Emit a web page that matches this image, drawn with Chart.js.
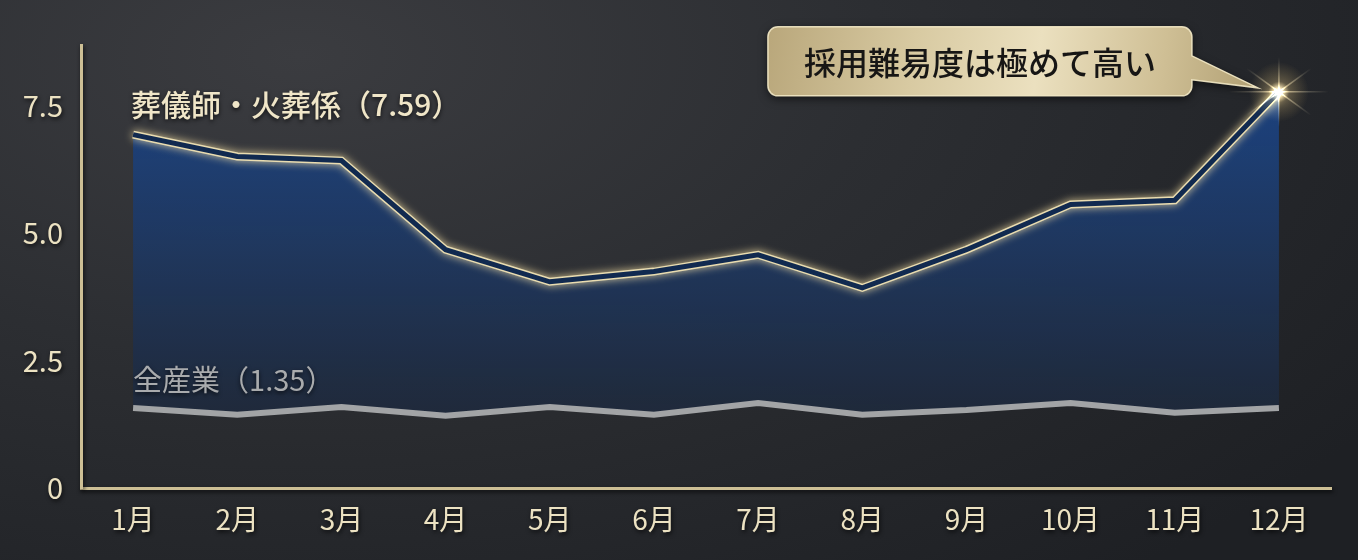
<!DOCTYPE html>
<html><head><meta charset="utf-8">
<script src="https://cdn.jsdelivr.net/npm/chart.js@4.4.1/dist/chart.umd.min.js"></script>
<style>
html,body{margin:0;padding:0;width:1358px;height:560px;overflow:hidden;}
body{background: radial-gradient(ellipse 95% 120% at 22% 10%, #3b3c40 0%, #2c2e32 45%, #1e2024 100%);}
#wrap{position:relative;width:1358px;height:560px;}
</style></head><body><div id="wrap"><canvas id="c" width="1358" height="560"></canvas></div>
<script>
const months = ['1月','2月','3月','4月','5月','6月','7月','8月','9月','10月','11月','12月'];
const funeralSeries = [6.94, 6.51, 6.43, 4.68, 4.05, 4.25, 4.58, 3.93, 4.68, 5.57, 5.65, 7.78];
const allIndustrySeries = [1.57, 1.44, 1.59, 1.42, 1.59, 1.44, 1.67, 1.44, 1.53, 1.67, 1.48, 1.57];
const yTickValues = [0, 2.5, 5, 7.5];
const funeralLabel = '葬儀師・火葬係（7.59）';
const allIndustryLabel = '全産業（1.35）';
const calloutText = '採用難易度は極めて高い';

const FONT = '"Noto Sans CJK JP", "Noto Sans", sans-serif';
const cream = '#ece2c2';

const fx = {
  id: 'fx',
  beforeDraw(chart) {
    const c = chart.ctx; c.save();
    c.shadowColor = 'rgba(0,0,0,0.75)'; c.shadowBlur = 4; c.shadowOffsetX = 1; c.shadowOffsetY = 2;
  },
  beforeDatasetsDraw(chart) { chart.ctx.restore(); },
  beforeDatasetDraw(chart, args) {
    if (args.index === 1) {
      const c = chart.ctx; c.save();
      c.shadowColor = 'rgba(255,232,170,0.8)'; c.shadowBlur = 8;
    }
  },
  afterDatasetDraw(chart, args) { if (args.index === 1) chart.ctx.restore(); },
  afterDatasetsDraw(chart) {
    const c = chart.ctx;
    const m0 = chart.getDatasetMeta(0).data;
    const m2 = chart.getDatasetMeta(2).data;
    // series labels
    c.save();
    c.shadowColor = 'rgba(0,0,0,0.7)'; c.shadowBlur = 4; c.shadowOffsetY = 2;
    c.textBaseline = 'alphabetic'; c.textAlign = 'left';
    c.font = '500 30px ' + FONT; c.fillStyle = '#f0e6c8';
    c.fillText(funeralLabel, m0[0].x - 2, m0[0].y - 19);
    c.font = '400 29px ' + FONT; c.fillStyle = '#a9abad';
    c.fillText(allIndustryLabel, m2[0].x, m2[0].y - 17);
    c.restore();

    // glowing point
    const p = m0[m0.length - 1];
    c.save();
    c.globalCompositeOperation = 'lighter';
    let g = c.createRadialGradient(p.x, p.y, 0, p.x, p.y, 30);
    g.addColorStop(0, 'rgba(255,250,230,1)');
    g.addColorStop(0.12, 'rgba(255,240,200,0.9)');
    g.addColorStop(0.35, 'rgba(230,200,130,0.3)');
    g.addColorStop(1, 'rgba(200,170,100,0)');
    c.fillStyle = g; c.beginPath(); c.arc(p.x, p.y, 30, 0, Math.PI * 2); c.fill();
    const streaks = [[0, 50], [Math.PI / 2, 35], [Math.PI * 0.2, 40], [-Math.PI * 0.2, 40]];
    for (const [a, len] of streaks) {
      for (const s of [1, -1]) {
        const ex = p.x + Math.cos(a) * len * s, ey = p.y + Math.sin(a) * len * s;
        const lg = c.createLinearGradient(p.x, p.y, ex, ey);
        lg.addColorStop(0, 'rgba(255,240,200,0.55)');
        lg.addColorStop(1, 'rgba(255,240,200,0)');
        c.strokeStyle = lg; c.lineWidth = 1.5;
        c.beginPath(); c.moveTo(p.x, p.y); c.lineTo(ex, ey); c.stroke();
      }
    }
    c.restore();

    // callout
    const right = p.x - 87, w = 424, h = 69;
    const left = right - w, top = p.y - 65, bottom = top + h, r = 10;
    const tipX = p.x - 21, tipY = p.y - 4;
    c.save();
    c.beginPath();
    c.moveTo(left + r, top);
    c.lineTo(right - r, top);
    c.arcTo(right, top, right, top + r, r);
    c.lineTo(right, top + 29);
    c.lineTo(tipX, tipY);
    c.lineTo(right, top + 53);
    c.lineTo(right, bottom - r);
    c.arcTo(right, bottom, right - r, bottom, r);
    c.lineTo(left + r, bottom);
    c.arcTo(left, bottom, left, bottom - r, r);
    c.lineTo(left, top + r);
    c.arcTo(left, top, left + r, top, r);
    c.closePath();
    const bg = c.createLinearGradient(left, top, tipX, bottom);
    bg.addColorStop(0, '#b9a77b');
    bg.addColorStop(0.3, '#d8caa2');
    bg.addColorStop(0.55, '#ebe0bf');
    bg.addColorStop(0.8, '#cfbf95');
    bg.addColorStop(1, '#b09f73');
    c.shadowColor = 'rgba(0,0,0,0.6)'; c.shadowBlur = 10; c.shadowOffsetY = 3;
    c.fillStyle = bg; c.fill();
    c.shadowColor = 'transparent';
    c.strokeStyle = 'rgba(245,235,200,0.9)'; c.lineWidth = 1.5; c.stroke();
    c.fillStyle = '#171615';
    c.font = '500 32px ' + FONT;
    c.textAlign = 'center'; c.textBaseline = 'middle';
    c.fillText(calloutText, (left + right) / 2, (top + bottom) / 2 + 1);
    c.restore();
  }
};

new Chart(document.getElementById('c'), {
  type: 'line',
  data: {
    labels: months,
    datasets: [
      { label: '葬儀師・火葬係', data: funeralSeries, borderColor: '#112a50', borderWidth: 5,
        pointRadius: 0, fill: false, tension: 0, order: 0, borderJoinStyle: 'miter' },
      { label: 'glow', data: funeralSeries, borderColor: '#e9dcb0', borderWidth: 8,
        pointRadius: 0, tension: 0, order: 1, fill: 2, borderJoinStyle: 'miter',
        backgroundColor: (ctx) => {
          const { ctx: c, chartArea } = ctx.chart;
          if (!chartArea) return 'rgba(30,60,110,0.8)';
          const g = c.createLinearGradient(0, chartArea.top + 40, 0, chartArea.bottom - 80);
          g.addColorStop(0, 'rgba(28,68,132,0.97)');
          g.addColorStop(0.5, 'rgba(30,56,98,0.92)');
          g.addColorStop(1, 'rgba(30,42,62,0.85)');
          return g;
        } },
      { label: '全産業', data: allIndustrySeries, borderColor: '#a2a4a6', borderWidth: 6,
        pointRadius: 0, fill: false, tension: 0, order: -1 }
    ]
  },
  options: {
    responsive: false, animation: false, devicePixelRatio: 1,
    layout: { padding: { top: 45, right: 27, left: 0, bottom: 0 } },
    plugins: { legend: { display: false }, tooltip: { enabled: false } },
    scales: {
      x: {
        offset: true,
        grid: { display: false, drawTicks: false },
        border: { display: true, color: '#cdbf95', width: 3 },
        ticks: { color: cream, font: { family: FONT, size: 28, weight: '400' }, padding: 15 },
        afterFit(s) { s.height = 72; }
      },
      y: {
        min: 0, max: 8.7,
        grid: { display: false, drawTicks: false },
        border: { display: true, color: '#cdbf95', width: 3 },
        afterBuildTicks(s) { s.ticks = yTickValues.map(v => ({ value: v })); },
        ticks: { color: cream, font: { family: FONT, size: 29, weight: '400' }, padding: 18,
          callback: (v) => v === 0 ? '0' : Number(v).toFixed(1) },
        afterFit(s) { s.width = 81; }
      }
    }
  },
  plugins: [fx]
});
</script></body></html>
